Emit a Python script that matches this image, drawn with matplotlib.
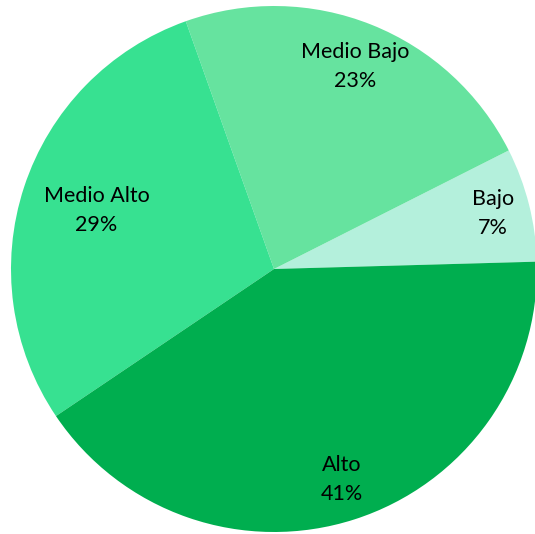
import numpy as np
import matplotlib
matplotlib.use("Agg")
import matplotlib.pyplot as plt

categories = ["Bajo", "Medio Bajo", "Medio Alto", "Alto"]
values = [7, 23, 29, 41]
colors = ["#B4F0DC", "#66E39F", "#37E191", "#00AE4F"]
label_r = [0.86, 0.83, 0.71, 0.84]

fig = plt.figure(figsize=(5.35, 5.34), dpi=100)
ax = fig.add_axes([0, 0, 1, 1])
wedges, _ = ax.pie(values, colors=colors, startangle=1.6, counterclock=True,
                   radius=1.0, center=(0, 0))
total = sum(values)
for w, cat, v, r in zip(wedges, categories, values, label_r):
    ang = np.deg2rad((w.theta1 + w.theta2) / 2)
    ax.text(r * np.cos(ang), r * np.sin(ang), f"{cat}\n{round(100 * v / total)}%",
            ha="center", va="center", fontsize=15.5, family="Lato",
            linespacing=1.6, color="black")
ax.set_xlim(-274 / 263, (535 - 274) / 263)
ax.set_ylim(-(534 - 269) / 263, 269 / 263)
ax.set_aspect("equal")
ax.axis("off")
fig.savefig("out.png", dpi=100)
